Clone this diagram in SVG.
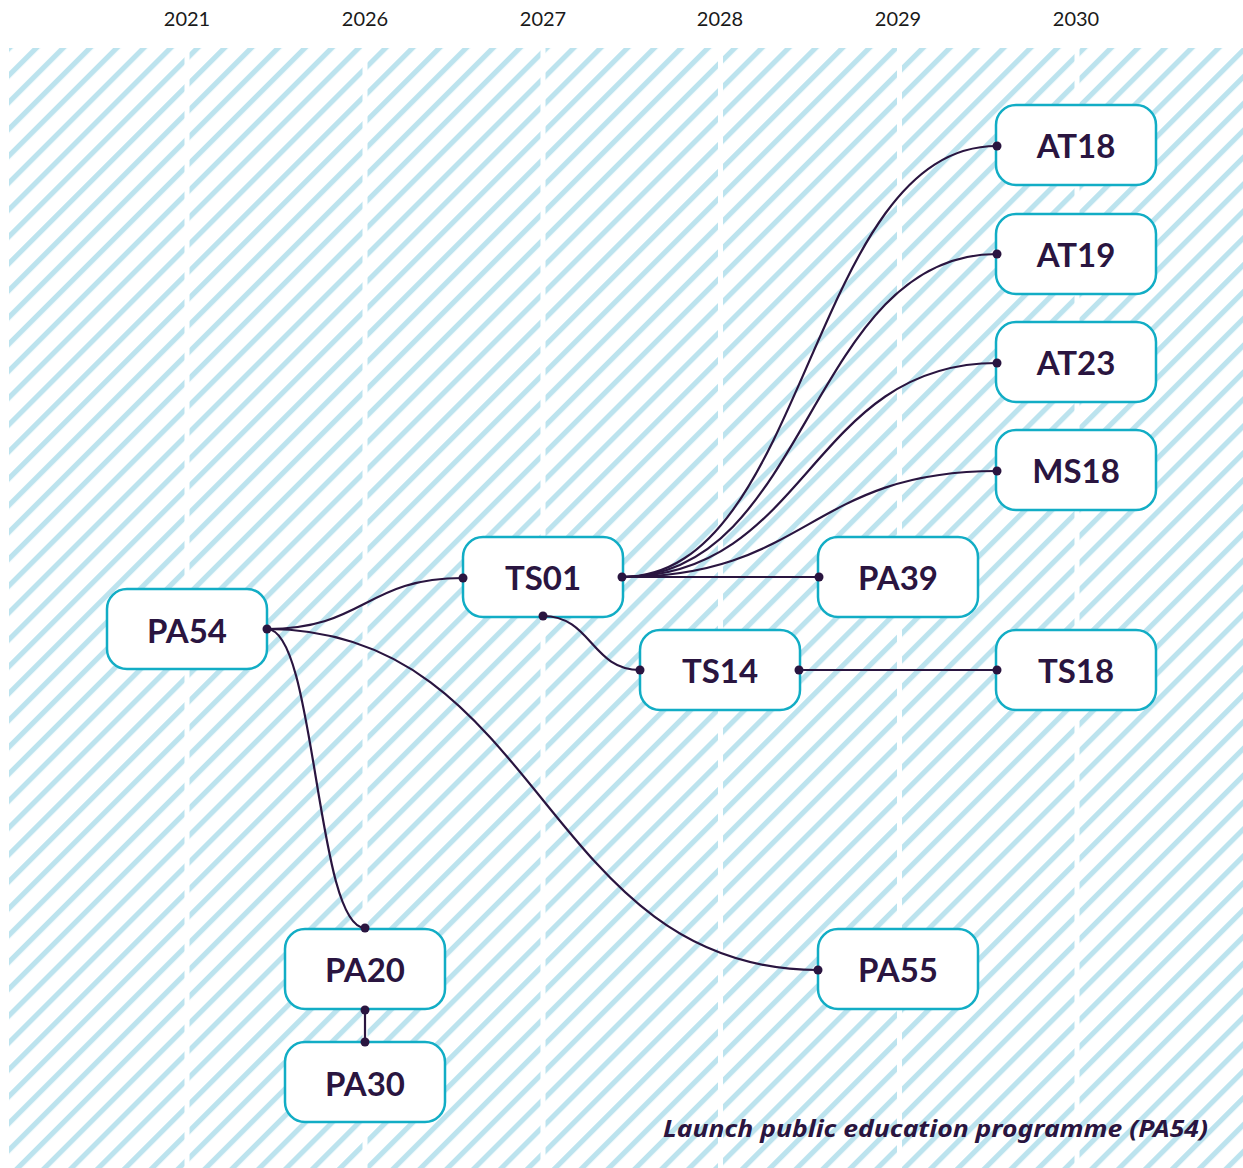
<svg xmlns="http://www.w3.org/2000/svg" width="1243" height="1168" viewBox="0 0 1243 1168">
<style>
.year{font-family:Lato,"Noto Sans",sans-serif;font-size:20px;fill:#1a1a1a;text-anchor:middle}
.box{fill:#ffffff;stroke:#12adc5;stroke-width:2.5}
.lbl{font-family:Lato,"Noto Sans",sans-serif;font-weight:700;font-size:33px;fill:#2a1540;text-anchor:middle}
.edge{fill:none;stroke:#2a1540;stroke-width:2.2}
.dot{fill:#2a1540}
.foot{font-family:"Noto Sans",Lato,sans-serif;font-weight:700;font-style:italic;font-size:24px;fill:#2a1540}
</style>
<defs>
<pattern id="hatch" patternUnits="userSpaceOnUse" width="19" height="19" patternTransform="rotate(45)">
<rect x="0" y="0" width="5.2" height="19" fill="#bce3ee"/>
</pattern>
</defs>
<rect width="1243" height="1168" fill="#ffffff"/>
<g id="background">
<rect x="9" y="48" width="1234" height="1120" fill="url(#hatch)"/>
<rect x="184.5" y="48" width="5" height="1120" fill="#ffffff"/>
<rect x="362.5" y="48" width="5" height="1120" fill="#ffffff"/>
<rect x="540.5" y="48" width="5" height="1120" fill="#ffffff"/>
<rect x="718" y="48" width="5" height="1120" fill="#ffffff"/>
<rect x="897" y="48" width="5" height="1120" fill="#ffffff"/>
<rect x="1074.5" y="48" width="5" height="1120" fill="#ffffff"/>
</g>
<g id="years">
<text class="year" x="187" y="26">2021</text>
<text class="year" x="365" y="26">2026</text>
<text class="year" x="543" y="26">2027</text>
<text class="year" x="720" y="26">2028</text>
<text class="year" x="898" y="26">2029</text>
<text class="year" x="1076" y="26">2030</text>
</g>
<g id="nodes">
<g id="PA54"><rect class="box" x="107" y="589" width="160" height="80" rx="20"/><text class="lbl" x="187" y="643">PA54</text></g>
<g id="TS01"><rect class="box" x="463" y="537" width="160" height="80" rx="20"/><text class="lbl" x="543" y="590">TS01</text></g>
<g id="PA39"><rect class="box" x="818" y="537" width="160" height="80" rx="20"/><text class="lbl" x="898" y="590">PA39</text></g>
<g id="TS14"><rect class="box" x="640" y="630" width="160" height="80" rx="20"/><text class="lbl" x="720" y="683">TS14</text></g>
<g id="TS18"><rect class="box" x="996" y="630" width="160" height="80" rx="20"/><text class="lbl" x="1076" y="683">TS18</text></g>
<g id="AT18"><rect class="box" x="996" y="105" width="160" height="80" rx="20"/><text class="lbl" x="1076" y="158">AT18</text></g>
<g id="AT19"><rect class="box" x="996" y="214" width="160" height="80" rx="20"/><text class="lbl" x="1076" y="267">AT19</text></g>
<g id="AT23"><rect class="box" x="996" y="322" width="160" height="80" rx="20"/><text class="lbl" x="1076" y="375">AT23</text></g>
<g id="MS18"><rect class="box" x="996" y="430" width="160" height="80" rx="20"/><text class="lbl" x="1076" y="483">MS18</text></g>
<g id="PA20"><rect class="box" x="285" y="929" width="160" height="80" rx="20"/><text class="lbl" x="365" y="982">PA20</text></g>
<g id="PA30"><rect class="box" x="285" y="1042" width="160" height="80" rx="20"/><text class="lbl" x="365" y="1096">PA30</text></g>
<g id="PA55"><rect class="box" x="818" y="929" width="160" height="80" rx="20"/><text class="lbl" x="898" y="982">PA55</text></g>
</g>
<g id="connectors">
<path class="edge" d="M267,629 C365,629 365,578 463,578"/>
<path class="edge" d="M267,629 C316,629 316,928 365,928"/>
<path class="edge" d="M267,629 C542.5,629 542.5,970 818,970"/>
<path class="edge" d="M622,577 C809,577 809,146 997,146"/>
<path class="edge" d="M622,577 C809,577 809,254 997,254"/>
<path class="edge" d="M622,577 C809,577 809,363 997,363"/>
<path class="edge" d="M622,577 C809,577 809,471 997,471"/>
<path class="edge" d="M622,577 L819,577"/>
<path class="edge" d="M543,616 C591.5,616 591.5,670 640,670"/>
<path class="edge" d="M799,670 L997,670"/>
<path class="edge" d="M365,1010 L365,1042"/>
<circle class="dot" cx="267" cy="629" r="4.5"/>
<circle class="dot" cx="463" cy="578" r="4.5"/>
<circle class="dot" cx="365" cy="928" r="4.5"/>
<circle class="dot" cx="818" cy="970" r="4.5"/>
<circle class="dot" cx="622" cy="577" r="4.5"/>
<circle class="dot" cx="997" cy="146" r="4.5"/>
<circle class="dot" cx="997" cy="254" r="4.5"/>
<circle class="dot" cx="997" cy="363" r="4.5"/>
<circle class="dot" cx="997" cy="471" r="4.5"/>
<circle class="dot" cx="819" cy="577" r="4.5"/>
<circle class="dot" cx="543" cy="616" r="4.5"/>
<circle class="dot" cx="640" cy="670" r="4.5"/>
<circle class="dot" cx="799" cy="670" r="4.5"/>
<circle class="dot" cx="997" cy="670" r="4.5"/>
<circle class="dot" cx="365" cy="1010" r="4.5"/>
<circle class="dot" cx="365" cy="1042" r="4.5"/>
</g>
<text class="foot" x="663" y="1137" textLength="545" lengthAdjust="spacingAndGlyphs">Launch public education programme (PA54)</text>
</svg>
